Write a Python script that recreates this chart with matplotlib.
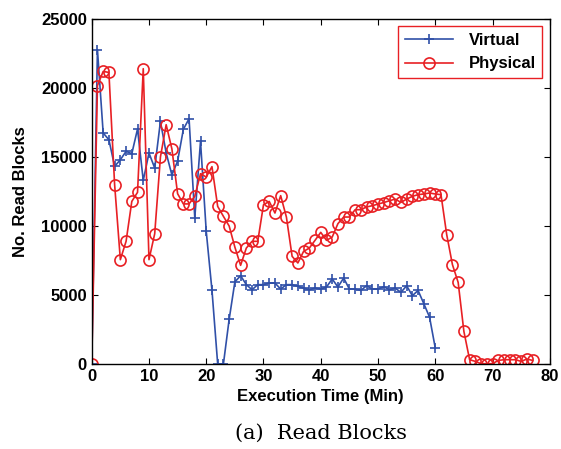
import matplotlib
matplotlib.use("Agg")
import matplotlib.pyplot as plt
import numpy as np

virtual_time = list(range(0, 61))
virtual_blocks = [0, 22780, 16740, 16250, 14320, 14800, 15410, 15240, 17030, 13300,
                  15290, 14200, 17580, 15300, 13700, 14700, 17000, 17780, 10600, 16130,
                  9610, 5350, 0, 0, 3230, 5950, 6400, 5750, 5380, 5750,
                  5750, 5870, 5870, 5430, 5750, 5750, 5620, 5500, 5380, 5500,
                  5430, 5580, 6160, 5580, 6230, 5430, 5430, 5330, 5670, 5430,
                  5430, 5600, 5380, 5500, 5190, 5670, 4950, 5330, 4370, 3400, 1160]

physical_time = list(range(0, 78))
physical_blocks = [0, 20170, 21200, 21130, 12990, 7560, 8890, 11780, 12440, 21400,
                   7560, 9440, 15000, 17340, 15590, 12340, 11600, 11600, 12150, 13790,
                   13550, 14300, 11420, 10700, 10000, 8470, 7150, 8400, 8890, 8890,
                   11540, 11780, 10940, 12200, 10650, 7800, 7320, 8160, 8400, 8960,
                   9540, 8960, 9200, 10170, 10650, 10650, 11180, 11180, 11380, 11470,
                   11590, 11700, 11830, 11950, 11710, 11950, 12150, 12270, 12320, 12390,
                   12320, 12270, 9370, 7200, 5910, 2360, 310, 190, 20, 20,
                   20, 260, 310, 310, 310, 190, 360, 260]

x_ticks = [0, 10, 20, 30, 40, 50, 60, 70, 80]
y_ticks = [0, 5000, 10000, 15000, 20000, 25000]

fig = plt.figure(figsize=(5.61, 4.49), dpi=100)
ax = fig.add_axes([0.1635, 0.1893, 0.8165, 0.7684])

blue = '#3050a8'
red = '#e82024'
ax.plot(virtual_time, virtual_blocks, color=blue, marker='+', markersize=7.5,
        markeredgewidth=1.2, linewidth=1.2, label='Virtual')
ax.plot(physical_time, physical_blocks, color=red, marker='o', markersize=8,
        markerfacecolor='none', markeredgewidth=1.2, linewidth=1.2, label='Physical')

ax.set_xlim(0, 80)
ax.set_ylim(0, 25000)
ax.set_xticks(x_ticks)
ax.set_yticks(y_ticks)
font = 'Liberation Sans'
ax.set_xticklabels([str(t) for t in x_ticks], fontsize=12, fontweight='bold', family=font)
ax.set_yticklabels([str(t) for t in y_ticks], fontsize=12, fontweight='bold', family=font)
ax.tick_params(direction='in', length=4, top=True, right=True, width=0.8)
for s in ax.spines.values():
    s.set_linewidth(1.0)
ax.set_xlabel('Execution Time (Min)', fontsize=12, fontweight='bold', family=font, labelpad=4)
ax.set_ylabel('No. Read Blocks', fontsize=12, fontweight='bold', family=font, labelpad=9)

leg = ax.legend(loc='upper right', prop={'family': font, 'weight': 'bold', 'size': 12},
                fancybox=False, framealpha=1, borderaxespad=0.45, handlelength=2.9,
                borderpad=0.4, labelspacing=0.5, handletextpad=0.9)
leg.get_frame().set_edgecolor(red)
leg.get_frame().set_linewidth(1.0)

fig.text(0.572, 0.035, '(a)  Read Blocks', fontsize=15, family='DejaVu Serif',
         ha='center', va='center')

fig.savefig('out.png', dpi=100)
